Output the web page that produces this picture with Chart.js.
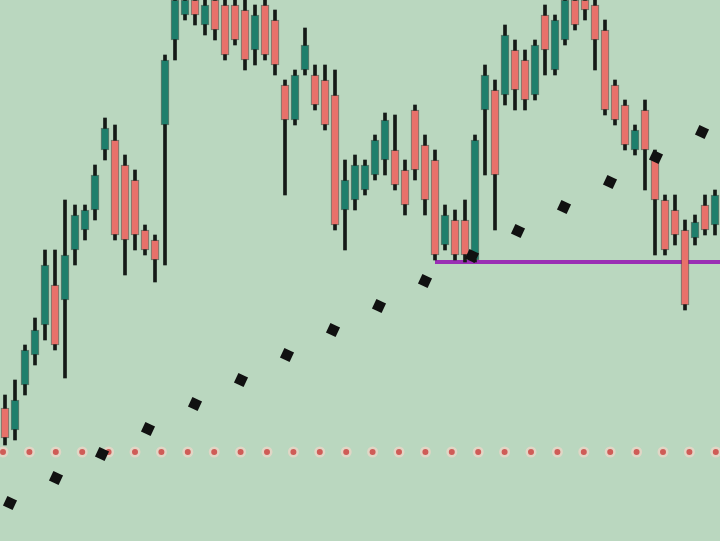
<!DOCTYPE html>
<html>
<head>
<meta charset="utf-8">
<script src="https://cdn.jsdelivr.net/npm/chart.js@4"></script>
<style>
html,body{margin:0;padding:0;background:#bad7bf;overflow:hidden;}
#wrap{width:720px;height:541px;}
</style>
</head>
<body>
<div id="wrap"><canvas id="c" width="720" height="541"></canvas></div>
<script>
// Candle data (index 0..71)
const openVals  = [133,111,156,186,216,256,241,291,311,331,391,401,376,361,311,301,416,501,526,541,516,541,536,536,531,491,536,521,456,421,471,466,461,446,331,341,351,366,381,391,371,431,396,381,296,321,321,281,431,451,446,491,481,446,526,471,501,541,541,536,511,456,436,391,431,386,341,331,311,303,336,316];
const highVals  = [146,161,196,223,291,291,341,336,336,376,423,416,386,371,316,306,486,551,551,546,546,546,541,541,541,536,541,531,461,471,513,476,476,471,381,386,381,406,428,426,381,436,406,391,336,331,341,406,476,461,516,501,491,501,536,526,546,546,546,546,521,461,441,416,441,391,346,346,321,326,346,351];
const lowVals   = [96,101,146,176,201,191,163,276,301,321,381,301,266,291,286,259,276,481,521,516,506,501,481,496,471,476,481,466,346,416,466,431,411,311,291,331,346,361,366,351,326,361,326,281,291,281,279,279,366,311,436,431,431,441,466,466,496,511,521,471,426,416,391,386,351,286,286,296,231,296,306,306];
const closeVals = [103,141,191,211,276,196,286,326,331,366,413,306,301,306,291,281,481,541,541,526,536,511,486,501,481,526,486,476,421,466,496,436,416,316,361,376,376,401,421,356,336,371,341,286,326,286,286,401,466,366,506,451,441,496,491,521,541,516,531,501,431,421,396,411,391,341,291,306,236,319,311,346];

// Dotted trend line points
const trendX = [0.5,5.1,9.7,14.3,19.0,23.6,28.2,32.8,37.4,42.0,46.7,51.3,55.9,60.5,65.1,69.7];
const trendY = [38,63,87,112,137,161,186,211,235,260,285,310,334,359,384,409];

// Horizontal levels
const redLevel = 89;
const purpleLevel = 279;
const purpleStart = 43;

const UP = '#1f7f6c', DOWN = '#e8716a', WICK = '#151a17';

const idx = openVals.map((_, i) => i);
const wicks = idx.map(i => ({x: i, y: [lowVals[i], highVals[i]]}));
const bodies = idx.map(i => ({x: i, y: [Math.min(openVals[i], closeVals[i]), Math.max(openVals[i], closeVals[i])]}));
const bodyColors = idx.map(i => closeVals[i] >= openVals[i] ? UP : DOWN);
const xMin = -0.5, xMax = idx.length - 0.5;

new Chart(document.getElementById('c'), {
  type: 'bar',
  data: {
    datasets: [
      {
        type: 'line',
        data: trendX.map((x, i) => ({x, y: trendY[i]})),
        showLine: false,
        pointStyle: 'rect',
        rotation: 25,
        pointRadius: 7.5,
        pointBackgroundColor: '#111',
        pointBorderWidth: 0,
        order: 0
      },
      {
        type: 'bar',
        data: bodies,
        backgroundColor: bodyColors,
        borderColor: 'rgba(20,25,22,0.5)',
        borderWidth: 1,
        borderSkipped: false,
        barThickness: 8,
        grouped: false,
        order: 1
      },
      {
        type: 'bar',
        data: wicks,
        backgroundColor: WICK,
        borderWidth: 0,
        barThickness: 3,
        grouped: false,
        order: 2
      },
      {
        type: 'line',
        data: [{x: purpleStart, y: purpleLevel}, {x: xMax, y: purpleLevel}],
        borderColor: '#9a2fb4',
        borderWidth: 4,
        pointRadius: 0,
        order: 3
      },
      {
        type: 'line',
        data: [{x: xMin, y: redLevel}, {x: xMax, y: redLevel}],
        borderColor: '#cf5c57',
        borderWidth: 6,
        borderCapStyle: 'round',
        borderDash: [0, 26.4],
        borderDashOffset: -3,
        pointRadius: 0,
        order: 4
      },
      {
        type: 'line',
        data: [{x: xMin, y: redLevel}, {x: xMax, y: redLevel}],
        borderColor: 'rgba(238,214,200,0.75)',
        borderWidth: 11,
        borderCapStyle: 'round',
        borderDash: [0, 26.4],
        borderDashOffset: -3,
        pointRadius: 0,
        order: 5
      }
    ]
  },
  options: {
    responsive: false,
    animation: false,
    layout: {padding: 0, autoPadding: false},
    plugins: {legend: {display: false}, tooltip: {enabled: false}},
    scales: {
      x: {type: 'linear', min: xMin, max: xMax, display: false, offset: false},
      y: {min: 0, max: 541, display: false}
    }
  }
});
</script>
</body>
</html>
